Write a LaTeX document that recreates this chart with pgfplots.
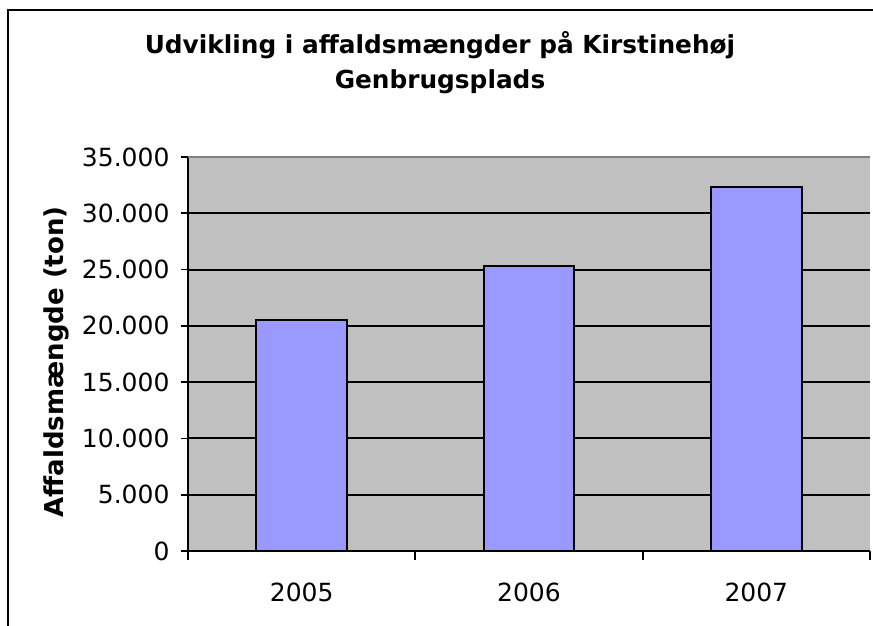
\documentclass[border=0pt]{standalone}
\usepackage{fontspec}
\setmainfont{DejaVu Sans}
\usepackage{pgfplots}
\pgfplotsset{compat=1.18}
\definecolor{plotgray}{HTML}{C0C0C0}
\definecolor{barblue}{HTML}{9999FF}
\begin{document}
\begin{tikzpicture}
\useasboundingbox (-188pt,-75pt) rectangle (685pt,551pt);
\draw[line width=2pt] (-180pt,-80pt) -- (-180pt,541pt) -- (690pt,541pt);
\begin{axis}[
  scale only axis,
  width=682pt, height=394pt,
  at={(0pt,0pt)}, anchor=south west,
  xmin=-0.5, xmax=2.5,
  ymin=0, ymax=35000,
  axis background/.style={fill=plotgray},
  axis x line*=bottom, axis y line*=left,
  x axis line style={line width=2.2pt, -},
  y axis line style={line width=1.8pt, -},
  xtick={0,1,2},
  xticklabels={2005,2006,2007},
  major x tick style={draw=none},
  minor xtick={-0.5,0.5,1.5,2.5},
  minor x tick style={line width=1.8pt, black},
  minor tick length=9pt,
  ytick={0,5000,10000,15000,20000,25000,30000},
  extra y ticks={35000},
  extra y tick style={grid style={line width=1.5pt, gray}},
  ymajorgrids,
  grid style={line width=2pt, black},
  y tick style={line width=1.8pt, black},
  major tick length=7pt,
  tick align=outside,
  scaled y ticks=false,
  /pgf/number format/.cd, 1000 sep={.}, assume math mode=true,
  /pgfplots/.cd,
  tick label style={font=\fontsize{25}{30}\selectfont},
  xticklabel style={yshift=-21pt},
  yticklabel style={xshift=-8pt},
  ylabel={Affaldsmængde (ton)},
  ylabel style={font=\fontsize{26}{32}\selectfont\bfseries, at={(axis description cs:-0.193,0.48)}, anchor=center},
  title={Udvikling i affaldsmængder på Kirstinehøj\\Genbrugsplads},
  title style={font=\fontsize{24.8}{35}\selectfont\bfseries, align=center, at={(axis description cs:0.3695,1.312)}, anchor=north},
]
\addplot[ybar, bar width=0.4, fill=barblue, draw=black, line width=2pt] coordinates {(0,20500) (1,25300) (2,32300)};
\end{axis}
\end{tikzpicture}
\end{document}
